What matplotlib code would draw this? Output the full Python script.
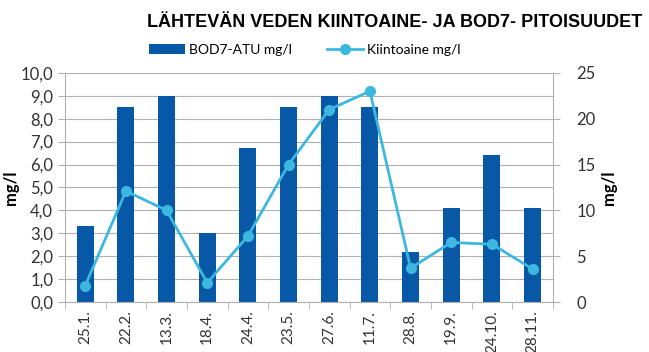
"""Outflow water suspended solids and BOD7 concentrations."""

import matplotlib

matplotlib.use("Agg")

import matplotlib.pyplot as plt
import numpy as np
from matplotlib.ticker import FuncFormatter, MultipleLocator

dates = ["25.1.", "22.2.", "13.3.", "18.4.", "24.4.", "23.5.",
         "27.6.", "11.7.", "28.8.", "19.9.", "24.10.", "28.11."]
bod7 = [3.3, 8.5, 9.0, 3.0, 6.7, 8.5, 9.0, 8.5, 2.2, 4.1, 6.4, 4.1]
solids = [1.8, 12.1, 10.0, 2.1, 7.2, 15.0, 21.0, 23.0, 3.7, 6.5, 6.3, 3.6]

BAR_COLOR = "#0758a6"
LINE_COLOR = "#3cb8e0"
GRID_COLOR = "#b0b0b0"
TEXT_COLOR = "#333333"
FONT = "Lato"

fig = plt.figure(figsize=(6.49, 3.52), dpi=100)
ax = fig.add_axes([0.1, 0.142, 0.752, 0.651])
ax2 = ax.twinx()

x = np.arange(len(dates))
ax.bar(x, bod7, width=0.42, color=BAR_COLOR, zorder=2, label="BOD7-ATU mg/l")
ax2.plot(x, solids, color=LINE_COLOR, linewidth=2, marker="o", markersize=7,
         zorder=3, label="Kiintoaine mg/l")

ax.set_xlim(-0.5, len(dates) - 0.5)
ax.set_ylim(0, 10)
ax2.set_ylim(0, 25)
ax.yaxis.set_major_locator(MultipleLocator(1))
ax2.yaxis.set_major_locator(MultipleLocator(5))
ax.yaxis.set_major_formatter(FuncFormatter(lambda v, _: f"{v:.1f}".replace(".", ",")))
ax.grid(axis="y", color=GRID_COLOR, linewidth=0.8, zorder=0)
ax.set_axisbelow(True)

ax.set_xticks(x)
ax.set_xticklabels(dates, rotation=90, fontsize=11, family=FONT, color=TEXT_COLOR)
ax.set_xticks(np.arange(-0.5, len(dates)), minor=True)
ax.tick_params(axis="x", which="major", length=0, pad=6)
ax.tick_params(axis="x", which="minor", length=5, color=GRID_COLOR, direction="out")
ax.tick_params(axis="y", length=5, color=GRID_COLOR, labelsize=12, labelcolor=TEXT_COLOR)
ax2.tick_params(axis="y", length=5, color=GRID_COLOR, labelsize=12, labelcolor=TEXT_COLOR,
                pad=12)
for lbl in ax.get_yticklabels() + ax2.get_yticklabels():
    lbl.set_family(FONT)

for a in (ax, ax2):
    for side in ("top", "right", "left", "bottom"):
        a.spines[side].set_visible(False)
ax.spines["left"].set_visible(True)
ax.spines["left"].set_color(GRID_COLOR)
ax.spines["bottom"].set_visible(True)
ax.spines["bottom"].set_color(GRID_COLOR)
ax2.spines["right"].set_visible(True)
ax2.spines["right"].set_color(GRID_COLOR)

ax.set_ylabel("mg/l", fontsize=12, fontweight="bold", family=FONT, labelpad=1)
ax2.set_ylabel("mg/l", fontsize=12, fontweight="bold", family=FONT, labelpad=4)

fig.text(0.99, 0.935, "LÄHTEVÄN VEDEN KIINTOAINE- JA BOD7- PITOISUUDET",
         ha="right", va="center", fontsize=13, fontweight="bold",
         family="Liberation Sans")

handles = ax.get_legend_handles_labels()[0] + ax2.get_legend_handles_labels()[0]
labels = ["BOD7-ATU mg/l", "Kiintoaine mg/l"]
fig.legend(handles, labels, loc="center", bbox_to_anchor=(0.47, 0.858), ncol=2,
           frameon=False, prop={"family": FONT, "size": 10}, handlelength=2.6,
           columnspacing=2.5, handletextpad=0.3)

fig.savefig("out.png", dpi=100)
